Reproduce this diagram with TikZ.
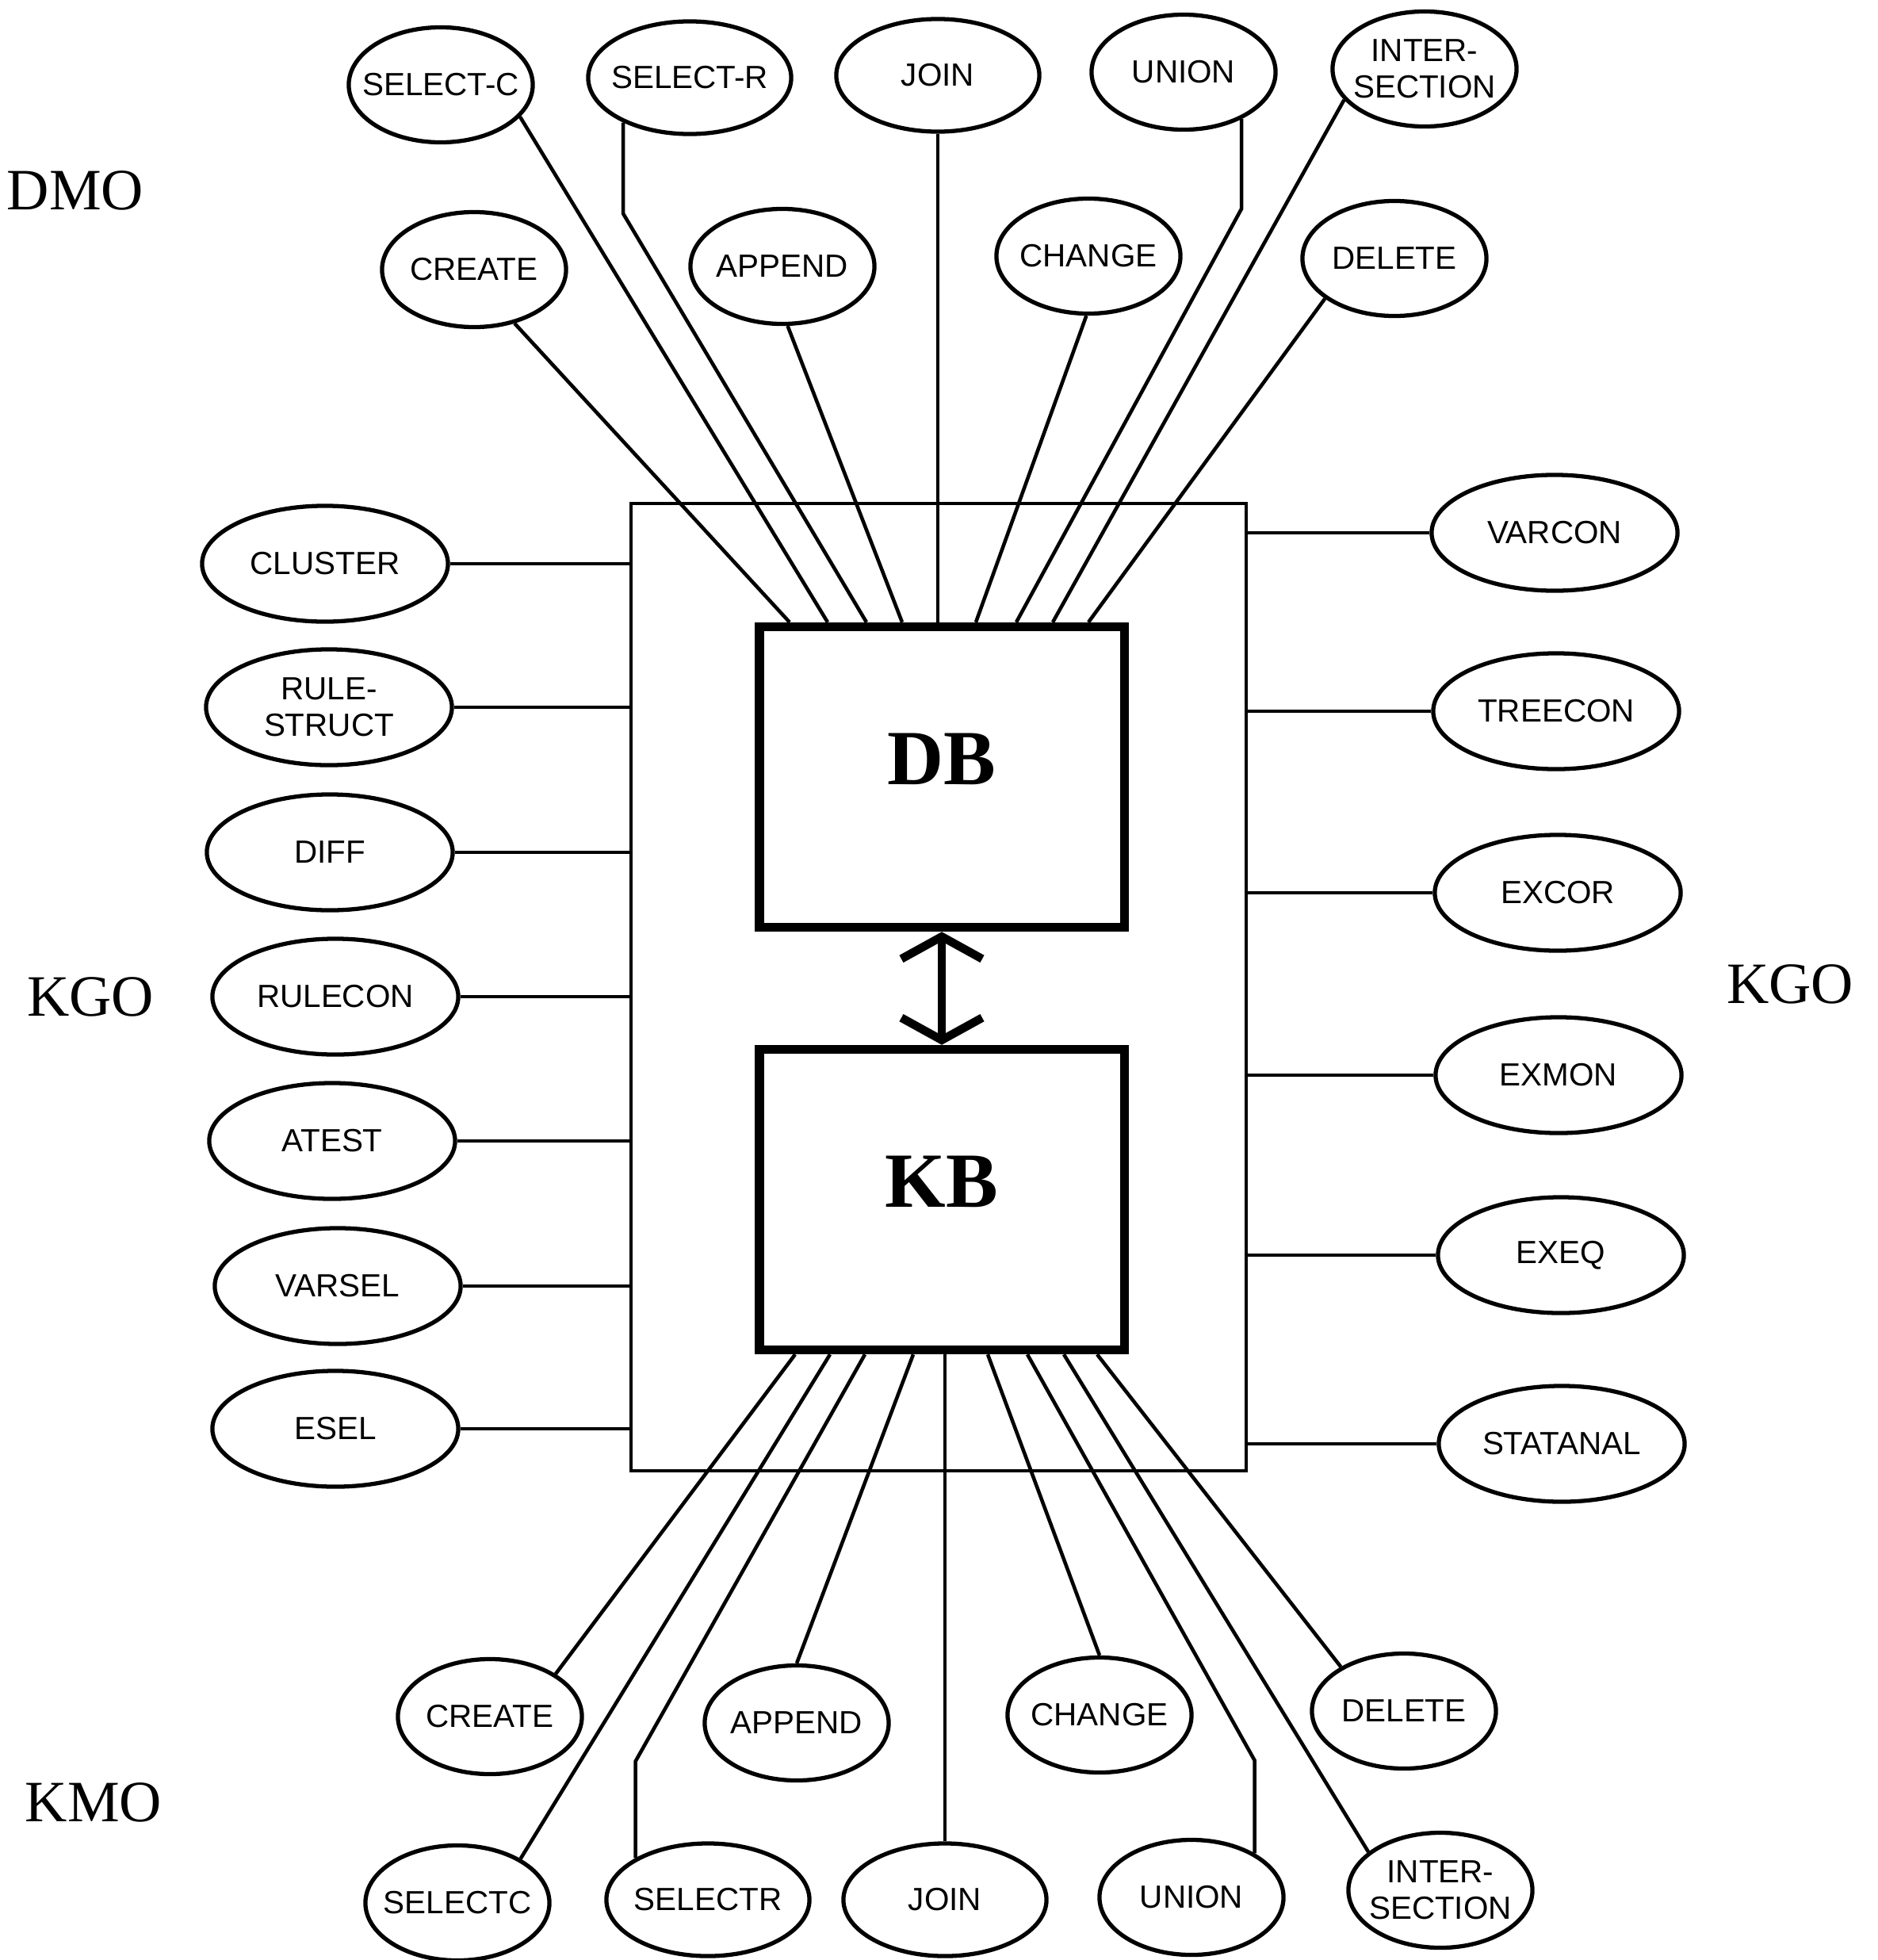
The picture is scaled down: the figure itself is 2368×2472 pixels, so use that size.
\documentclass[tikz,border=0pt]{standalone}
\usepackage{fontspec}
\setmainfont{Liberation Serif}
\newfontfamily\plotfont{Liberation Sans}
\usepackage{tikz}
\usetikzlibrary{shapes.geometric, arrows.meta}

\begin{document}
\begin{tikzpicture}[x=0.01cm, y=-0.01cm,
    op/.style={draw, ellipse, line width=1.5pt, inner xsep=-7pt, inner ysep=0pt,
        minimum width=2.32cm, minimum height=1.45cm, align=center,
        font=\plotfont\fontsize{11.5}{13}\selectfont},
    opwide/.style={op, minimum width=2.56cm, minimum height=1.42cm},
    opside/.style={op, minimum width=3.1cm, minimum height=1.46cm},
    conn/.style={line width=1.3pt},
    bigbox/.style={draw, line width=3.2pt, minimum width=4.6cm, minimum height=3.79cm,
        text depth=0.45cm, font=\bfseries\fontsize{28}{31}\selectfont},
    grp/.style={font=\fontsize{21}{23}\selectfont}]
    \useasboundingbox (0,0) rectangle (2368,2472);
    % Caixas
    \node[draw, line width=1.1pt, minimum width=7.76cm, minimum height=12.19cm] (outer) at (1184,1245) {};
    \node[bigbox] (db) at (1188,980) {DB};
    \node[bigbox] (kb) at (1188,1513) {KB};
    \draw[line width=3pt, {Straight Barb[length=8pt,width=29pt]}-{Straight Barb[length=8pt,width=29pt]}] (db.south) -- (kb.north);
    % Grupos
    \node[grp] (dmo) at (95,240) {DMO};
    \node[grp] (kgol) at (114,1257) {KGO};
    \node[grp] (kgor) at (2258,1241) {KGO};
    \node[grp] (kmo) at (118,2273) {KMO};
    % DMO
    \node[op] (selc) at (556,107) {SELECT-C};
    \node[opwide] (selr) at (870,98) {SELECT-R};
    \node[opwide] (join) at (1183,95) {JOIN};
    \node[op] (union) at (1493,91) {UNION};
    \node[op] (inter) at (1797,87) {INTER-\\SECTION};
    \node[op] (crt) at (598,340) {CREATE};
    \node[op] (app) at (987,336) {APPEND};
    \node[op] (chg) at (1373,323) {CHANGE};
    \node[op] (del) at (1759,326) {DELETE};
    \foreach \n/\a/\x in {crt/-53/996, selc/-22/1044, app/-85/1138, join/-90/1183,
        chg/-92/1231, inter/-159/1328, del/-150/1373}
        \draw[conn] (\n.\a) -- (\x,0 |- db.north);
    \draw[conn] (selr.-146) -- ++(0,115) -- (1093,0 |- db.north);
    \draw[conn] (union.-39) -- ++(0,113) -- (1282,0 |- db.north);
    % KGO
    \foreach \n/\x/\y/\t in {clus/410/711/CLUSTER, rstr/415/892/{RULE-\\STRUCT},
        diff/416/1075/DIFF, rcon/423/1257/RULECON, atest/419/1439/ATEST,
        vsel/426/1622/VARSEL, esel/423/1802/ESEL} {
        \node[opside] (\n) at (\x,\y) {\t};
        \draw[conn] (\n.east) -- (\n -| outer.west);
    }
    \foreach \n/\x/\y/\t in {vcon/1961/672/VARCON, tcon/1963/897/TREECON,
        excor/1965/1126/EXCOR, exmon/1966/1356/EXMON, exeq/1969/1583/EXEQ,
        stat/1970/1821/STATANAL} {
        \node[opside] (\n) at (\x,\y) {\t};
        \draw[conn] (\n.west) -- (\n -| outer.east);
    }
    % KMO
    \node[op] (crtb) at (618,2165) {CREATE};
    \node[op] (appb) at (1005,2173) {APPEND};
    \node[op] (chgb) at (1387,2163) {CHANGE};
    \node[op] (delb) at (1771,2158) {DELETE};
    \node[op] (selcb) at (577,2400) {SELECTC};
    \node[opwide] (selrb) at (893,2396) {SELECTR};
    \node[opwide] (joinb) at (1192,2396) {JOIN};
    \node[op] (unionb) at (1503,2393) {UNION};
    \node[op] (interb) at (1817,2384) {INTER-\\SECTION};
    \foreach \n/\a/\x in {crtb/33/1003, selcb/35/1047, appb/90/1152, joinb/90/1192,
        chgb/90/1246, interb/152/1342, delb/145/1384}
        \draw[conn] (\n.\a) -- (\x,0 |- kb.south);
    \draw[conn] (selrb.150) -- ++(0,-122) -- (1091,0 |- kb.south);
    \draw[conn] (unionb.35) -- ++(0,-117) -- (1296,0 |- kb.south);
\end{tikzpicture}
\end{document}
